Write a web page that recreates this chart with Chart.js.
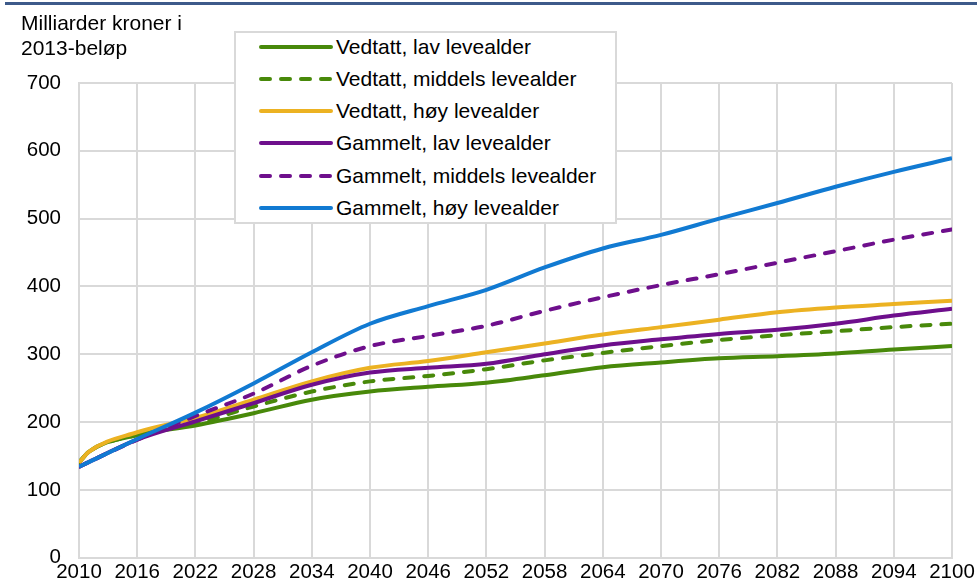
<!DOCTYPE html>
<html lang="no">
<head>
<meta charset="utf-8">
<title>Milliarder kroner i 2013-beløp</title>
<script src="https://cdn.jsdelivr.net/npm/chart.js@4.4.1/dist/chart.umd.min.js"></script>
<style>
    html, body {
        margin: 0;
        padding: 0;
        background: #ffffff;
    }
    #wrap {
        position: relative;
        width: 977px;
        height: 588px;
        font-family: "Liberation Sans", Arial, sans-serif;
        color: #000;
    }
    #topline {
        position: absolute;
        left: 5px;
        top: 2px;
        width: 972px;
        height: 3px;
        background: #3d5a8a;
    }
    #title {
        position: absolute;
        left: 21px;
        top: 11px;
        font-size: 21px;
        line-height: 24.5px;
    }
    #legend {
        position: absolute;
        left: 234px;
        top: 31px;
        width: 383px;
        height: 193px;
        box-sizing: border-box;
        border: 2px solid #d9d9d9;
        background: #ffffff;
    }
    .row {
        position: absolute;
        left: 0;
        width: 100%;
        height: 24px;
        font-size: 21px;
        line-height: 24px;
        white-space: nowrap;
    }
    .row svg {
        position: absolute;
        left: 23px;
        top: 8px;
    }
    .row span {
        position: absolute;
        left: 100px;
        top: 0;
    }
    canvas {
        position: absolute;
        left: 0;
        top: 0;
    }
</style>
</head>
<body>
<div id="wrap">
    <canvas id="pensjonChart" width="977" height="588"></canvas>
    <div id="topline"></div>
    <div id="title">Milliarder kroner i<br>2013-beløp</div>
    <div id="legend"></div>
</div>
<script>
// Data lest av figuren
const years = [2010, 2011, 2016, 2022, 2028, 2034, 2040, 2046, 2052, 2058, 2064, 2070, 2076, 2082, 2088, 2094, 2100];

const vedtattLav = [140, 156, 181, 195, 213, 233, 245, 252, 258, 269, 281, 288, 294, 297, 301, 307, 312];
const vedtattMiddels = [140, 156, 181, 198, 223, 245, 260, 268, 278, 291, 302, 312, 321, 328, 334, 340, 345];
const vedtattHoy = [140, 156, 185, 206, 233, 260, 280, 290, 303, 316, 329, 340, 351, 362, 369, 374, 379];
const gammeltLav = [134, 141, 174, 201, 228, 255, 273, 280, 286, 300, 313, 322, 330, 336, 345, 357, 367];
const gammeltMiddels = [134, 141, 174, 209, 242, 283, 312, 327, 342, 364, 384, 402, 418, 435, 452, 469, 484];
const gammeltHoy = [134, 141, 175, 214, 257, 303, 345, 371, 395, 428, 456, 476, 500, 523, 547, 569, 589];

const seriesNames = [
    "Vedtatt, lav levealder",
    "Vedtatt, middels levealder",
    "Vedtatt, høy levealder",
    "Gammelt, lav levealder",
    "Gammelt, middels levealder",
    "Gammelt, høy levealder",
];
const seriesValues = [vedtattLav, vedtattMiddels, vedtattHoy, gammeltLav, gammeltMiddels, gammeltHoy];
const seriesColors = ["#48890a", "#48890a", "#ecb222", "#6e0f8c", "#6e0f8c", "#117ad2"];
const seriesDashed = [false, true, false, false, true, false];

const yTicks = [0, 100, 200, 300, 400, 500, 600, 700];

document.addEventListener("DOMContentLoaded", function () {
    const ctx = document.getElementById("pensjonChart").getContext("2d");
    const fontFamily = "'Liberation Sans', Arial, sans-serif";

    const datasets = seriesNames.map((name, i) => ({
        label: name,
        data: years.map((year, j) => ({ x: year, y: seriesValues[i][j] })),
        borderColor: seriesColors[i],
        backgroundColor: seriesColors[i],
        borderWidth: 4,
        borderDash: seriesDashed[i] ? [9, 11] : [],
        borderCapStyle: seriesDashed[i] ? "round" : "butt",
        borderJoinStyle: "round",
        pointRadius: 0,
        cubicInterpolationMode: "monotone",
        fill: false,
        order: seriesNames.length - i,
    }));

    new Chart(ctx, {
        type: "line",
        data: { datasets: datasets },
        options: {
            responsive: false,
            devicePixelRatio: 1,
            animation: false,
            layout: { padding: { top: 83, right: 25, bottom: 0, left: 0 } },
            plugins: {
                legend: { display: false },
                tooltip: { enabled: false },
            },
            scales: {
                x: {
                    type: "linear",
                    min: years[0],
                    max: years[years.length - 1],
                    afterFit: (scale) => {
                        scale.height = 28;
                    },
                    ticks: {
                        stepSize: 6,
                        padding: 2,
                        color: "#000",
                        maxRotation: 0,
                        autoSkip: false,
                        font: { family: fontFamily, size: 20.5 },
                        callback: (value) => String(value),
                    },
                    grid: { color: "#d9d9d9", lineWidth: 2, drawTicks: false },
                    border: { color: "#d9d9d9", width: 2 },
                },
                y: {
                    min: yTicks[0],
                    max: yTicks[yTicks.length - 1],
                    afterFit: (scale) => {
                        scale.width = 79;
                    },
                    afterBuildTicks: (scale) => {
                        scale.ticks = yTicks.map((v) => ({ value: v }));
                    },
                    ticks: {
                        padding: 18,
                        color: "#000",
                        font: { family: fontFamily, size: 20.5 },
                    },
                    grid: { color: "#d9d9d9", lineWidth: 2, drawTicks: false },
                    border: { color: "#d9d9d9", width: 2 },
                },
            },
        },
    });

    // Egen forklaring i boks over plottet
    const legend = document.getElementById("legend");
    seriesNames.forEach((name, i) => {
        const row = document.createElement("div");
        row.className = "row";
        row.style.top = (15.7 + i * 32.2 - 2 - 12) + "px";
        const dash = seriesDashed[i] ? ' stroke-dasharray="9 11"' : "";
        row.innerHTML =
            '<svg width="74" height="8"><line x1="2" y1="4" x2="72" y2="4" stroke="' +
            seriesColors[i] + '" stroke-width="4" stroke-linecap="round"' + dash +
            '/></svg><span>' + name + "</span>";
        legend.appendChild(row);
    });
});
</script>
</body>
</html>
